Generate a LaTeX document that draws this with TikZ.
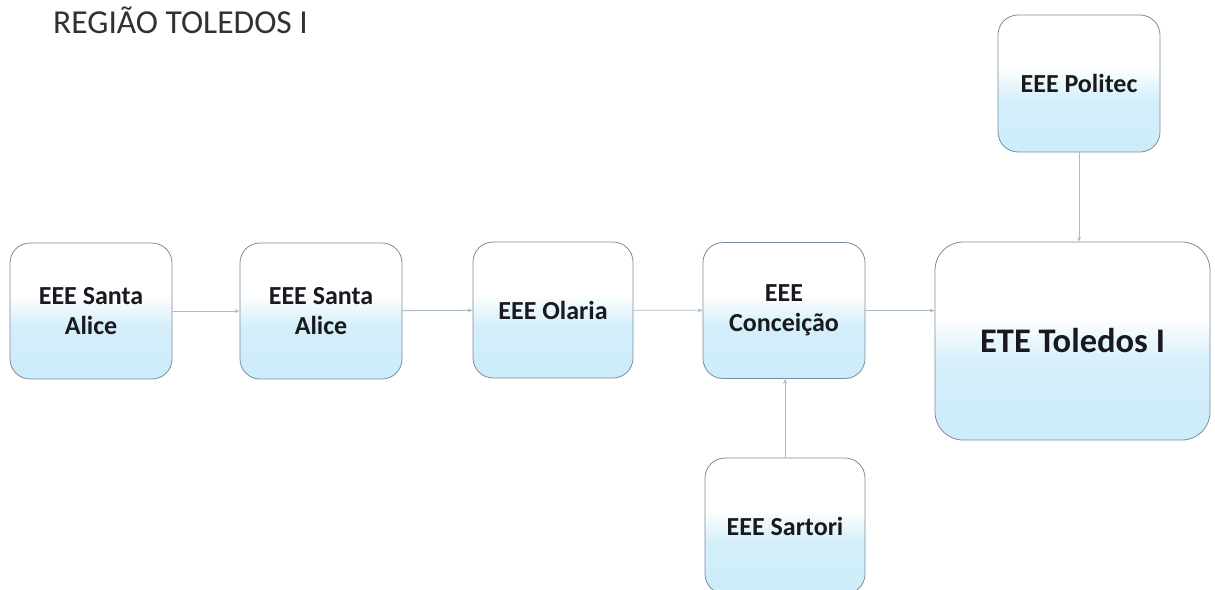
\documentclass[tikz,border=0pt]{standalone}
\usepackage{fontspec}
\setmainfont{Carlito}
\usetikzlibrary{arrows.meta}
\definecolor{boxblue}{RGB}{204,236,249}
\definecolor{boxedge}{RGB}{125,140,155}
\definecolor{linkcol}{RGB}{170,188,202}
\definecolor{txt}{RGB}{25,25,30}
\pgfdeclareverticalshading{boxshade}{100bp}{color(0bp)=(boxblue); color(25bp)=(boxblue); color(44bp)=(boxblue!85!white); color(56bp)=(white); color(100bp)=(white)}
\tikzset{
  stbox/.style={draw=boxedge, line width=0.8pt, rounded corners=20pt, shading=boxshade,
    minimum width=162pt, minimum height=136pt, inner sep=0pt, align=center,
    text=txt, font=\fontsize{26}{30}\selectfont\bfseries},
  bigbox/.style={stbox, rounded corners=28pt, minimum width=275pt, minimum height=198pt,
    font=\fontsize{34.5}{40}\selectfont\bfseries},
  link/.style={draw=linkcol, line width=0.8pt, -{Stealth[length=5pt,width=4pt]}},
  titletext/.style={anchor=base west, inner sep=0pt, text=txt!90!white, font=\fontsize{33.5}{38}\selectfont}
}
\begin{document}
\begin{tikzpicture}[x=1pt,y=-1pt]
\useasboundingbox (0,0) rectangle (1215,589);
\node[titletext] (title) at (53,33) {REGIÃO TOLEDOS I};
\node[stbox] (b1) at (91,311) {EEE Santa\\Alice};
\node[stbox] (b2) at (321,311) {EEE Santa\\Alice};
\node[stbox, minimum width=160pt] (b3) at (553,310) {EEE Olaria};
\node[stbox] (b4) at (784,310.5) {EEE\\Conceição};
\node[bigbox] (ete) at (1072.5,341) {ETE Toledos I};
\node[stbox, minimum height=137pt] (pol) at (1079,83.5) {EEE Politec};
\node[stbox, minimum width=160pt] (sar) at (785,526) {EEE Sartori};
\draw[link] (b1) -- (b2);
\draw[link] (b2) -- (b3);
\draw[link] (b3) -- (b4);
\draw[link] (b4.east) -- (b4.east -| ete.west);
\draw[link] (sar.north) -- (sar.north |- b4.south);
\draw[link] (pol.south) -- (pol.south |- ete.north);
\end{tikzpicture}
\end{document}
